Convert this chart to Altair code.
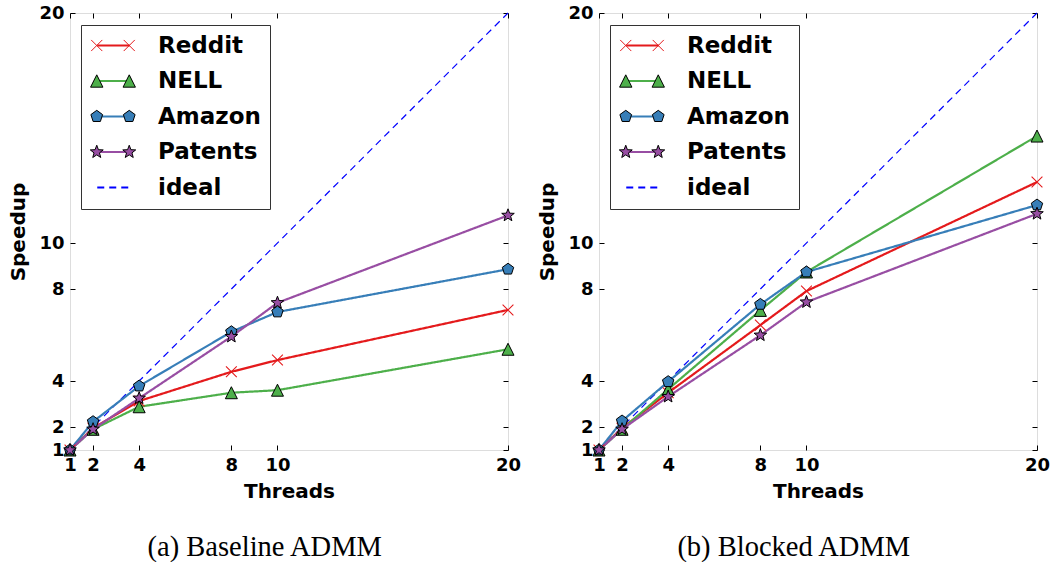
import math
import altair as alt
import pandas as pd

# ---------------- data ----------------
threads = [1, 2, 4, 8, 10, 20]
series_names = ["Reddit", "NELL", "Amazon", "Patents"]

reddit_a = [1, 1.95, 3.13, 4.40, 4.91, 7.09]
nell_a = [1, 1.90, 2.88, 3.49, 3.60, 5.38]
amazon_a = [1, 2.23, 3.78, 6.14, 7.00, 8.86]
patents_a = [1, 1.90, 3.25, 5.93, 7.40, 11.20]

reddit_b = [1, 1.95, 3.49, 6.43, 7.91, 12.65]
nell_b = [1, 1.90, 3.64, 7.07, 8.74, 14.65]
amazon_b = [1, 2.26, 3.97, 7.33, 8.74, 11.65]
patents_b = [1, 1.90, 3.32, 5.99, 7.43, 11.27]

ideal_x = [1, 20]
ideal_y = [1, 20]

tick_values = [1, 2, 4, 8, 10, 20]
captions = ["(a) Baseline ADMM", "(b) Blocked ADMM"]
x_title = "Threads"
y_title = "Speedup"

panels = [
    {"Reddit": reddit_a, "NELL": nell_a, "Amazon": amazon_a, "Patents": patents_a},
    {"Reddit": reddit_b, "NELL": nell_b, "Amazon": amazon_b, "Patents": patents_b},
]

# ---------------- style ----------------
all_series = series_names + ["ideal"]
colors = ["#e41a1c", "#4daf4a", "#377eb8", "#984ea3", "#0000ff"]
color_of = dict(zip(all_series, colors))
dashes = [[1, 0], [1, 0], [1, 0], [1, 0], [7, 5]]
FONT = "DejaVu Sans"


def fmt(v):
    return f"{v:.3f}"


def x_path(cx, s):
    return (f"M{fmt(cx - s)},{fmt(-s)}L{fmt(cx + s)},{fmt(s)}"
            f"M{fmt(cx - s)},{fmt(s)}L{fmt(cx + s)},{fmt(-s)}")


def tri_path(cx, s):
    return f"M{fmt(cx)},{fmt(-s)}L{fmt(cx + s)},{fmt(s)}L{fmt(cx - s)},{fmt(s)}Z"


def poly_path(cx, s, n=5):
    pts = []
    for k in range(n):
        a = -math.pi / 2 + 2 * math.pi * k / n
        pts.append((cx + s * math.cos(a), s * math.sin(a)))
    return "M" + "L".join(f"{fmt(x)},{fmt(y)}" for x, y in pts) + "Z"


def star_path(cx, s, inner=0.42):
    pts = []
    for k in range(10):
        r = s if k % 2 == 0 else s * inner
        a = -math.pi / 2 + math.pi * k / 5
        pts.append((cx + r * math.cos(a), r * math.sin(a)))
    return "M" + "L".join(f"{fmt(x)},{fmt(y)}" for x, y in pts) + "Z"


makers = {"Reddit": x_path, "NELL": tri_path, "Amazon": poly_path, "Patents": star_path}
marker_scale = {"Reddit": 0.9, "NELL": 1.0, "Amazon": 1.0, "Patents": 1.1}
plot_paths = {s: makers[s](0, marker_scale[s]) for s in series_names}
LS = 0.38
legend_paths = [makers[s](-1, LS * marker_scale[s]) + makers[s](1, LS * marker_scale[s])
                for s in series_names] + ["M0,0"]

key_domain = ["k-" + s for s in all_series]
legend_fill = ["transparent", color_of["NELL"], color_of["Amazon"], color_of["Patents"], "transparent"]
legend_stroke = [color_of["Reddit"], "black", "black", "black", "transparent"]

W, H = 438, 437
SYM = 1056

common_leg = dict(
    title=None, orient="none", legendX=11, legendY=12, direction="vertical",
    labelFont=FONT, labelFontWeight="bold", labelFontSize=23, labelColor="black",
    symbolSize=SYM, clipHeight=23, rowPadding=11.5, padding=9, labelOffset=27, symbolOffset=6,
    labelLimit=0,
)

x_scale = alt.Scale(domain=[1, 20], nice=False, zero=False)
y_scale = alt.Scale(domain=[1, 20], nice=False, zero=False)

axis_common = dict(values=tick_values, offset=-5, tickSize=5, tickColor="black", tickWidth=1,
                   domain=False, grid=False, labelFlush=False, labelOverlap=False, format="d",
                   labelFont=FONT, labelFontWeight="bold", labelFontSize=18, labelColor="black",
                   titleFont=FONT, titleFontWeight="bold", titleFontSize=20, titleColor="black")

x_main = alt.Axis(orient="bottom", title=x_title, labelPadding=6, titlePadding=7, **axis_common)
y_main = alt.Axis(orient="left", title=y_title, labelPadding=6, titlePadding=10, **axis_common)
x_top = alt.Axis(orient="top", title=None, labels=False, **axis_common)
y_right = alt.Axis(orient="right", title=None, labels=False, **axis_common)


def panel(values, caption):
    rows = []
    for s in series_names:
        for t, v in zip(threads, values[s]):
            rows.append({"threads": t, "speedup": v, "series": s, "key": "k-" + s})
    df = pd.DataFrame(rows)
    ideal_df = pd.DataFrame({"threads": ideal_x, "speedup": ideal_y, "series": ["ideal"] * 2})

    line_leg = alt.Legend(symbolType="stroke", symbolStrokeWidth=2, strokeColor="#333",
                          fillColor="white", **common_leg)
    color_enc = alt.Color("series:N", scale=alt.Scale(domain=all_series, range=colors), legend=line_leg)
    dash_enc = alt.StrokeDash("series:N", scale=alt.Scale(domain=all_series, range=dashes), legend=line_leg)

    ideal_layer = alt.Chart(ideal_df).mark_line(strokeWidth=1.2).encode(
        x=alt.X("threads:Q", scale=x_scale, axis=None),
        y=alt.Y("speedup:Q", scale=y_scale, axis=None),
        color=color_enc, strokeDash=dash_enc,
    )
    lines = alt.Chart(df).mark_line(strokeWidth=2.2).encode(
        x=alt.X("threads:Q", scale=x_scale, axis=x_main),
        y=alt.Y("speedup:Q", scale=y_scale, axis=y_main),
        color=color_enc, strokeDash=dash_enc,
    )
    layers = [ideal_layer, lines]
    for s in series_names:
        sub = df[df["series"] == s]
        if s == "Reddit":
            mk = alt.Chart(sub).mark_point(shape=plot_paths[s], filled=False, stroke=color_of[s],
                                           strokeWidth=1.1, size=144, opacity=1)
        else:
            mk = alt.Chart(sub).mark_point(shape=plot_paths[s], filled=True, fill=color_of[s],
                                           stroke="black", strokeWidth=1, size=144, opacity=1)
        layers.append(mk.encode(
            x=alt.X("threads:Q", scale=x_scale, axis=None),
            y=alt.Y("speedup:Q", scale=y_scale, axis=None),
        ))
    mark_leg = alt.Legend(symbolStrokeWidth=1, labelExpr="''", symbolOpacity=1, **common_leg)
    leg_layer = alt.Chart(df).mark_point(filled=True, opacity=0).encode(
        x=alt.X("threads:Q", scale=x_scale, axis=x_top),
        y=alt.Y("speedup:Q", scale=y_scale, axis=y_right),
        shape=alt.Shape("key:N", scale=alt.Scale(domain=key_domain, range=legend_paths), legend=mark_leg),
        fill=alt.Fill("key:N", scale=alt.Scale(domain=key_domain, range=legend_fill), legend=mark_leg),
        stroke=alt.Stroke("key:N", scale=alt.Scale(domain=key_domain, range=legend_stroke), legend=mark_leg),
    )
    layers.append(leg_layer)
    return alt.layer(*layers).resolve_axis(x="independent", y="independent").properties(
        width=W, height=H,
        title=alt.TitleParams(caption, orient="bottom", anchor="middle", frame="bounds",
                              font="Liberation Serif", fontSize=28.5, fontWeight="normal",
                              color="black", offset=32),
    )


chart = alt.hconcat(panel(panels[0], captions[0]), panel(panels[1], captions[1]), spacing=15).resolve_scale(
    color="independent", strokeDash="independent", shape="independent",
    fill="independent", stroke="independent",
).resolve_legend(
    color="independent", strokeDash="independent", shape="independent",
    fill="independent", stroke="independent",
).properties(
    padding={"left": 8, "top": 3, "right": 0, "bottom": 0},
).configure_view(stroke="black", strokeWidth=1.2).configure(background="white")

chart.save("out.html", embed_options={"renderer": "svg", "actions": False})
